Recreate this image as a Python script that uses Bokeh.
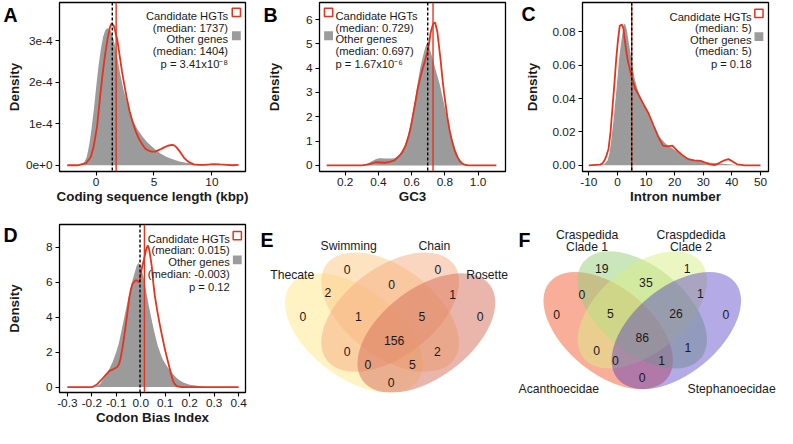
import numpy as np
from bokeh.plotting import figure
from bokeh.layouts import row, column
from bokeh.models import (Range1d, Label, FixedTicker, Span, ColumnDataSource, LinearAxis)
from bokeh.core.properties import value
from bokeh.embed import file_html
from bokeh.resources import INLINE

# ---------------- data ----------------
# A: coding sequence length (kbp)
a_hgt = [(-2.48, 0), (-1.6, 0), (-0.86, 0.05e-4), (-0.45, 0.2e-4), (-0.19, 0.47e-4), (0.1, 0.95e-4),
         (0.35, 1.64e-4), (0.55, 2.15e-4), (0.75, 2.6e-4), (1.0, 3.05e-4), (1.2, 3.32e-4), (1.35, 3.42e-4),
         (1.55, 3.35e-4), (1.83, 3.03e-4), (2.05, 2.62e-4), (2.24, 2.26e-4), (2.45, 1.93e-4), (2.64, 1.64e-4),
         (2.9, 1.3e-4), (3.18, 1.02e-4), (3.45, 0.8e-4), (3.72, 0.63e-4), (4.0, 0.5e-4), (4.26, 0.4e-4),
         (4.55, 0.35e-4), (4.8, 0.33e-4), (5.1, 0.33e-4), (5.34, 0.36e-4), (5.6, 0.39e-4), (5.88, 0.43e-4),
         (6.2, 0.47e-4), (6.55, 0.49e-4), (6.75, 0.48e-4), (6.95, 0.43e-4), (7.15, 0.36e-4), (7.36, 0.28e-4),
         (7.6, 0.18e-4), (7.9, 0.1e-4), (8.2, 0.05e-4), (8.44, 0.02e-4), (8.9, 0.01e-4), (9.38, 0.01e-4),
         (9.8, 0.02e-4), (10.2, 0.03e-4), (10.7, 0.02e-4), (11.3, 0.01e-4), (11.8, 0), (12.3, 0.01e-4)]
a_oth = [(-1.5, 0), (-1.27, 0.02e-4), (-1.0, 0.08e-4), (-0.8, 0.2e-4), (-0.6, 0.47e-4), (-0.4, 0.85e-4),
         (-0.19, 1.33e-4), (0.0, 1.85e-4), (0.22, 2.4e-4), (0.42, 2.8e-4), (0.62, 3.1e-4), (0.8, 3.25e-4),
         (0.97, 3.3e-4), (1.15, 3.28e-4), (1.29, 3.22e-4), (1.5, 3.05e-4), (1.7, 2.8e-4), (1.9, 2.5e-4),
         (2.1, 2.18e-4), (2.35, 1.85e-4), (2.64, 1.56e-4), (2.9, 1.3e-4), (3.18, 1.09e-4), (3.55, 0.88e-4),
         (3.99, 0.7e-4), (4.4, 0.56e-4), (4.8, 0.46e-4), (5.2, 0.36e-4), (5.6, 0.28e-4), (6.1, 0.2e-4),
         (6.68, 0.14e-4), (7.2, 0.09e-4), (7.76, 0.06e-4), (8.3, 0.04e-4), (8.84, 0.02e-4), (9.4, 0.01e-4),
         (9.9, 0)]
a_median_hgt, a_median_oth = 1.737, 1.404

# B: GC3
b_hgt = [(0.089, 0), (0.2, 0), (0.30, 0), (0.33, 0.03), (0.356, 0.07), (0.384, 0.13), (0.413, 0.12),
         (0.44, 0.11), (0.469, 0.15), (0.497, 0.21), (0.516, 0.33), (0.53, 0.42), (0.544, 0.54),
         (0.563, 0.8), (0.582, 1.2), (0.596, 1.6), (0.61, 2.13), (0.624, 2.65), (0.638, 3.19), (0.652, 3.6),
         (0.667, 3.99), (0.681, 4.3), (0.695, 4.65), (0.705, 5.0), (0.714, 5.44), (0.724, 5.7),
         (0.732, 5.84), (0.742, 5.87), (0.755, 5.5), (0.765, 4.9), (0.775, 4.3), (0.785, 3.6), (0.795, 3.0),
         (0.805, 2.5), (0.815, 2.0), (0.83, 1.4), (0.845, 0.95), (0.86, 0.6), (0.875, 0.35), (0.89, 0.18),
         (0.905, 0.08), (0.92, 0.03), (0.94, 0), (1.11, 0)]
b_oth = [(0.31, 0), (0.33, 0.05), (0.356, 0.15), (0.384, 0.25), (0.403, 0.29), (0.42, 0.29), (0.44, 0.28),
         (0.469, 0.28), (0.497, 0.3), (0.51, 0.35), (0.525, 0.44), (0.54, 0.58), (0.554, 0.74), (0.568, 1.0),
         (0.582, 1.34), (0.596, 1.78), (0.61, 2.26), (0.624, 2.85), (0.638, 3.46), (0.652, 4.0),
         (0.667, 4.45), (0.68, 4.8), (0.689, 4.98), (0.697, 5.0), (0.704, 4.91), (0.718, 4.6), (0.732, 4.25),
         (0.75, 3.8), (0.77, 3.32), (0.79, 2.7), (0.808, 2.13), (0.826, 1.6), (0.845, 1.07), (0.865, 0.62),
         (0.883, 0.34), (0.9, 0.15), (0.911, 0.08), (0.925, 0.03), (0.939, 0)]
b_median_hgt, b_median_oth = 0.729, 0.697

# C: intron number
c_hgt = [(-10, 0), (-6.1, 0.0004), (-5.3, 0.001), (-4.5, 0.003), (-3.8, 0.006), (-3.1, 0.0098),
         (-2.4, 0.02), (-1.7, 0.035), (-1.0, 0.05), (-0.4, 0.064), (0.2, 0.075), (0.8, 0.0835),
         (1.56, 0.0843), (2.1, 0.082), (2.5, 0.076), (3.0, 0.0696), (3.5, 0.064), (4.0, 0.06), (5.1, 0.052),
         (6.2, 0.046), (7.6, 0.0416), (9.3, 0.036), (10.9, 0.031), (12.6, 0.024), (14.2, 0.0175),
         (15.9, 0.0118), (17.5, 0.0114), (19.2, 0.0118), (20.8, 0.0089), (22.5, 0.0064), (24.7, 0.0037),
         (26.9, 0.003), (29.1, 0.0027), (30.7, 0.0017), (32.4, 0.0006), (34.1, 0.0002), (35.7, 0.0015),
         (37.4, 0.003), (38.8, 0.0037), (40.1, 0.0025), (41.8, 0.0006), (44.5, 0), (50, 0)]
c_oth = [(-5.5, 0), (-4.5, 0.001), (-3.4, 0.003), (-2.7, 0.008), (-2.0, 0.0175), (-1.3, 0.028),
         (-0.6, 0.0407), (0.0, 0.052), (0.5, 0.062), (1.0, 0.07), (1.6, 0.077), (2.0, 0.082), (2.3, 0.0847),
         (2.7, 0.0845), (3.0, 0.083), (3.4, 0.08), (3.8, 0.0754), (4.3, 0.07), (4.9, 0.0638), (5.4, 0.058),
         (6.0, 0.0522), (6.8, 0.047), (7.6, 0.0426), (8.5, 0.039), (9.3, 0.0359), (10.9, 0.030),
         (12.6, 0.0233), (14.8, 0.0166), (17.0, 0.0127), (19.2, 0.0102), (21.4, 0.0075), (23.6, 0.005),
         (26.9, 0.003), (30.2, 0.002), (34.6, 0.0012), (39.0, 0.0006), (42.3, 0)]
c_median_hgt, c_median_oth = 5, 5

# D: codon bias index
d_hgt = [(-0.3, 0), (-0.198, 0), (-0.179, 0.15), (-0.16, 0.42), (-0.143, 0.7), (-0.128, 0.93),
         (-0.111, 1.03), (-0.096, 1.15), (-0.088, 1.35), (-0.083, 1.6), (-0.074, 2.3), (-0.064, 3.26),
         (-0.055, 4.2), (-0.047, 5.09), (-0.04, 5.6), (-0.034, 5.9), (-0.022, 6.1), (-0.015, 6.1),
         (-0.009, 6.0), (-0.004, 6.1), (0.0, 6.46), (0.006, 6.9), (0.013, 7.29), (0.022, 7.87), (0.028, 8.1),
         (0.032, 8.0), (0.036, 7.75), (0.045, 6.92), (0.051, 6.0), (0.057, 5.27), (0.067, 4.4), (0.077, 3.63),
         (0.086, 3.0), (0.096, 2.34), (0.105, 1.8), (0.115, 1.25), (0.124, 0.75), (0.132, 0.33), (0.14, 0.15),
         (0.147, 0.05), (0.166, 0), (0.4, 0)]
d_oth = [(-0.19, 0), (-0.166, 0.18), (-0.14, 0.7), (-0.115, 1.43), (-0.1, 2.0), (-0.089, 2.53), (-0.07, 3.81),
         (-0.051, 5.09), (-0.032, 6.19), (-0.017, 6.92), (-0.009, 7.1), (0.0, 6.92), (0.006, 6.6),
         (0.013, 6.19), (0.022, 5.5), (0.032, 4.73), (0.041, 4.1), (0.051, 3.44), (0.06, 2.9), (0.07, 2.34),
         (0.08, 1.95), (0.089, 1.61), (0.1, 1.35), (0.109, 1.15), (0.12, 0.95), (0.134, 0.7), (0.147, 0.52),
         (0.16, 0.38), (0.172, 0.28), (0.185, 0.2), (0.2, 0.14), (0.224, 0.09), (0.245, 0.05), (0.262, 0.02),
         (0.28, 0.01), (0.3, 0)]
d_median_hgt, d_median_oth = 0.015, -0.003

# tick labels
a_xticks, a_xlabels = [0, 5, 10], ["0", "5", "10"]
a_yticks, a_ylabels = [0, 1e-4, 2e-4, 3e-4], ["0e+0", "1e-4", "2e-4", "3e-4"]
b_xticks, b_xlabels = [0.2, 0.4, 0.6, 0.8, 1.0], ["0.2", "0.4", "0.6", "0.8", "1.0"]
b_yticks, b_ylabels = [0, 1, 2, 3, 4, 5, 6], ["0", "1", "2", "3", "4", "5", "6"]
c_xticks, c_xlabels = [-10, 0, 10, 20, 30, 40, 50], ["-10", "0", "10", "20", "30", "40", "50"]
c_yticks, c_ylabels = [0, 0.02, 0.04, 0.06, 0.08], ["0.00", "0.02", "0.04", "0.06", "0.08"]
d_xticks = [-0.3, -0.2, -0.1, 0.0, 0.1, 0.2, 0.3, 0.4]
d_xlabels = ["-0.3", "-0.2", "-0.1", "0.0", "0.1", "0.2", "0.3", "0.4"]
d_yticks, d_ylabels = [0, 2, 4, 6, 8], ["0", "2", "4", "6", "8"]

a_legend = ["Candidate HGTs", "(median: 1737)", "Other genes", "(median: 1404)", "p = 3.41x10\u207b\u2078"]
b_legend = ["Candidate HGTs", "(median: 0.729)", "Other genes", "(median: 0.697)", "p = 1.67x10\u207b\u2076"]
c_legend = ["Candidate HGTs", "(median: 5)", "Other genes", "(median: 5)", "p = 0.18"]
d_legend = ["Candidate HGTs", "(median: 0.015)", "Other genes", "(median: -0.003)", "p = 0.12"]

# Venn diagrams
e_sets = ["Thecate", "Swimming", "Chain", "Rosette"]
e_counts = [0, 0, 0, 0, 2, 0, 1, 1, 5, 156, 0, 2, 0, 5, 0]
f_sets = ["Acanthoecidae", "Craspedida\nClade 1", "Craspdedida\nClade 2", "Stephanoecidae"]
f_counts = [19, 1, 35, 0, 1, 0, 5, 26, 0, 86, 0, 1, 0, 1, 0]

# ---------------- layout / style ----------------
FONT = "Liberation Sans"
TXT = "#1a1a1a"
RED = "#E5331D"
GREY = "#9B9B9B"
SX = 777 / 793
SY = 428 / 444
ROW_H = 214
TICK_FS = "11.8px"
TITLE_FS = "13.4px"
LEG_FS = "11.2px"
LETTER_FS = "19.5px"
VENN_FS = "12.2px"


def add_label(p, x, y, text, size, align="left", style="normal", color=TXT, units="screen"):
    p.add_layout(Label(x=x, y=y, x_units=units, y_units=units, text=text,
                       text_font=FONT, text_font_size=size, text_font_style=style,
                       text_color=color, text_align=align, text_baseline="alphabetic"))


def density_panel(W, frame, xr, yr, xt, xl, yt, yl, xtitle, ystand, hgt, oth,
                  med_h, med_o, letter, letter_cy, texts, leg):
    fl, fr, ft, fb = frame
    H = ROW_H
    bl = round(fl * SX); br = W - round(fr * SX)
    bt = round(ft * SY); bb = H - round(fb * SY)
    p = figure(width=W, height=H, x_range=Range1d(*xr), y_range=Range1d(*yr),
               output_backend="svg", toolbar_location=None,
               min_border_left=bl, min_border_right=br, min_border_top=bt, min_border_bottom=bb)
    p.xgrid.visible = False
    p.ygrid.visible = False
    p.outline_line_color = "black"
    p.outline_line_width = 1.3
    p.outline_line_alpha = 1.0
    fbo = H - bb
    frr = W - br

    # reference-pixel position -> data position (legend placement)
    def dx(rx):
        return xr[0] + (rx * SX - bl) / (frr - bl) * (xr[1] - xr[0])

    def dy(ry):
        return yr[1] - (ry * SY - bt) / (fbo - bt) * (yr[1] - yr[0])

    ox, oy = zip(*oth)
    hx, hy = zip(*hgt)
    p.varea(x=list(ox), y1=0, y2=list(oy), fill_color=GREY)
    p.line(x=list(hx), y=list(hy), line_color=RED, line_width=1.8)
    p.add_layout(Span(location=med_h, dimension="height", line_color=RED, line_width=1.4))
    p.add_layout(Span(location=med_o, dimension="height", line_color="black", line_width=1.4,
                      line_dash="3 2"))
    for ax, ticks, labels in ((p.xaxis[0], xt, xl), (p.yaxis[0], yt, yl)):
        ax.ticker = FixedTicker(ticks=list(ticks), minor_ticks=[])
        ax.major_label_overrides = {t: l for t, l in zip(ticks, labels)}
        ax.axis_line_color = None
        ax.major_tick_line_color = "black"
        ax.major_tick_line_width = 1.1
        ax.major_tick_out = 4
        ax.major_tick_in = 0
        ax.minor_tick_line_color = None
        ax.major_label_text_font = FONT
        ax.major_label_text_font_size = TICK_FS
        ax.major_label_text_color = TXT
        ax.axis_label_text_font = FONT
        ax.axis_label_text_font_style = "bold"
        ax.axis_label_text_font_size = TITLE_FS
        ax.axis_label_text_color = TXT
    p.xaxis[0].major_label_standoff = 2
    p.yaxis[0].major_label_standoff = 3
    p.xaxis[0].axis_label = xtitle
    p.xaxis[0].axis_label_standoff = 0
    p.yaxis[0].axis_label = "Density"
    p.yaxis[0].axis_label_standoff = ystand

    # panel letter: the only tick label of an outer, line-less left axis
    y_letter = dy(letter_cy)
    lax = LinearAxis(ticker=FixedTicker(ticks=[y_letter], minor_ticks=[]),
                     major_label_overrides={y_letter: letter},
                     axis_line_color=None, major_tick_line_color=None, minor_tick_line_color=None,
                     major_tick_out=0, major_tick_in=0, major_label_standoff=-14,
                     major_label_text_font=FONT, major_label_text_font_style="bold",
                     major_label_text_font_size=LETTER_FS, major_label_text_color="black")
    p.add_layout(lax, "left")

    # legend: texts and key squares
    for txt, ry in zip(texts, leg["base"]):
        add_label(p, dx(leg["tx"]), dy(ry), txt, LEG_FS, leg["align"], units="data")
    (rx1, ry1), (rx2, ry2) = leg["sq_red"], leg["sq_grey"]
    side = 8.4 * SX
    p.rect(x=[dx(rx1)], y=[dy(ry1)], width=side, height=side, width_units="screen",
           height_units="screen", fill_color="white", line_color=RED, line_width=1.5)
    p.rect(x=[dx(rx2)], y=[dy(ry2)], width=side + 0.6, height=side + 0.6, width_units="screen",
           height_units="screen", fill_color=GREY, line_color=None)
    return p


VENN_CX = [0.35, 0.5, 0.5, 0.65]
VENN_CY = [0.47, 0.57, 0.57, 0.47]
VENN_ROT = [135, 135, 45, 45]
VENN_A, VENN_B = 0.35, 0.2
TXT_REF = 12.0


def venn_panel(W, bt, bb, X0, Y0, SXu, SYu, fills, alphas, cats, bottom_cats, counts, count_pos,
               letter, letter_pos):
    H = ROW_H
    # data units == pixels of the figure (y measured upward from the figure bottom)
    p = figure(width=W, height=H, x_range=Range1d(0, W), y_range=Range1d(bb, H - bt),
               output_backend="svg", toolbar_location=None,
               min_border_left=0, min_border_right=0, min_border_top=bt, min_border_bottom=bb,
               x_axis_type=None, y_axis_type=None)
    p.outline_line_color = None
    add_label(p, letter_pos[0] * SX, H - letter_pos[1] * SY, letter, LETTER_FS, "left", "bold",
              "black", units="data")
    xs, ys, ws, hs, angs = [], [], [], [], []
    for cx, cy, rot in zip(VENN_CX, VENN_CY, VENN_ROT):
        th = np.radians(rot)
        R = np.array([[np.cos(th), -np.sin(th)], [np.sin(th), np.cos(th)]])
        M = np.diag([SXu * SX, SYu * SY]) @ R @ np.diag([VENN_A, VENN_B])
        U, S, Vt = np.linalg.svd(M)
        xs.append((X0 + cx * SXu) * SX)
        ys.append(H - (Y0 + (1 - cy) * SYu) * SY)
        ws.append(2 * S[0])
        hs.append(2 * S[1])
        angs.append(float(np.arctan2(U[1, 0], U[0, 0])))
    src = ColumnDataSource(dict(x=xs, y=ys, w=ws, h=hs, a=angs, c=fills, al=alphas))
    p.ellipse(x="x", y="y", width="w", height="h", angle="a", fill_color="c", fill_alpha="al",
              line_color=None, source=src)
    tx = [x * SX for x, _ in count_pos]
    ty = [H - (y + 0.358 * TXT_REF) * SY for _, y in count_pos]
    p.text(x=tx, y=ty, text=[str(c) for c in counts], text_align="center",
           text_baseline="alphabetic", text_font=value(FONT), text_font_size=value(VENN_FS),
           text_color=TXT)
    cx_, cy_, ct_ = [], [], []
    for name, lines_pos in cats:
        for line, (x, y) in zip(name.split("\n"), lines_pos):
            cx_.append(x * SX)
            cy_.append(H - (y + 0.358 * TXT_REF) * SY)
            ct_.append(line)
    p.text(x=cx_, y=cy_, text=ct_, text_align="center", text_baseline="alphabetic",
           text_font=value(FONT), text_font_size=value(VENN_FS), text_color=TXT)
    if bottom_cats:
        # category names below the diagram, as labels of a line-less bottom axis
        bticks = [x * SX for _, x, _ in bottom_cats]
        cap_top = (bottom_cats[0][2] - 0.358 * TXT_REF) * SY
        stand = int(round(cap_top - 0.19 * 12.2 - (H - bb)))
        bax = LinearAxis(ticker=FixedTicker(ticks=bticks, minor_ticks=[]),
                         major_label_overrides={t: n for t, (n, _, _) in zip(bticks, bottom_cats)},
                         axis_line_color=None, major_tick_line_color=None, minor_tick_line_color=None,
                         major_tick_out=0, major_tick_in=0, major_label_standoff=stand,
                         major_label_text_font=FONT, major_label_text_font_size=VENN_FS,
                         major_label_text_color=TXT)
        p.add_layout(bax, "below")
    return p


top_base = [16.3, 28.2, 40.3, 52.2, 65.5]

pA = density_panel(260, (52, 250, 2, 177), (-3.15, 12.9), (-0.15e-4, 3.92e-4),
                   a_xticks, a_xlabels, a_yticks, a_ylabels, "Coding sequence length (kbp)", 1,
                   a_hgt, a_oth, a_median_hgt, a_median_oth, "A", 15.0, a_legend,
                   dict(align="right", tx=231.5, base=top_base,
                        sq_red=(240.3, 12.4), sq_grey=(240.3, 36.6)))
pB = density_panel(258, (52, 250, 2, 177), (0.046, 1.165), (-0.25, 6.7),
                   b_xticks, b_xlabels, b_yticks, b_ylabels, "GC3", 21,
                   b_hgt, b_oth, b_median_hgt, b_median_oth, "B", 15.0, b_legend,
                   dict(align="left", tx=69, base=top_base,
                        sq_red=(61.7, 12.4), sq_grey=(61.7, 36.6)))
pC = density_panel(259, (58, 255, 2, 177), (-12.2, 52.8), (-0.0037, 0.0975),
                   c_xticks, c_xlabels, c_yticks, c_ylabels, "Intron number", 10,
                   c_hgt, c_oth, c_median_hgt, c_median_oth, "C", 13.9, c_legend,
                   dict(align="right", tx=237.3, base=[17, 28.5, 41, 52.5, 65.7],
                        sq_red=(245, 13.3), sq_grey=(245, 37.5)))
D_FRAME = (52, 250, 10, 185)
pD = density_panel(260, D_FRAME, (-0.332, 0.428), (-0.31, 9.3),
                   d_xticks, d_xlabels, d_yticks, d_ylabels, "Codon Bias Index", 21,
                   d_hgt, d_oth, d_median_hgt, d_median_oth, "D", 21.7, d_legend,
                   dict(align="right", tx=233.3, base=[25.5, 36.5, 49.5, 61.5, 75],
                        sq_red=(241.3, 21.9), sq_grey=(241.3, 47.1)))

row2_bt = round(D_FRAME[2] * SY)
row2_bb = ROW_H - round(D_FRAME[3] * SY)

e_count_pos = [(43.3, 102), (88.3, 53.2), (181, 53.2), (224.2, 102), (68.8, 76.8), (133.8, 68.2),
               (196, 78.2), (100, 101), (164.7, 101), (136.3, 126.2), (88.3, 137.4), (180.5, 137.4),
               (109.7, 151.5), (155, 151.5), (133.3, 169.8)]
e_cats = [(e_sets[0], [(32.4, 58.3)]), (e_sets[1], [(90, 28.3)]), (e_sets[2], [(177.5, 28.3)]),
          (e_sets[3], [(231.3, 58.3)])]
f_count_pos = [(85, 51.5), (172, 51.5), (130, 66.2), (64.7, 78.2), (185.7, 77.7), (38.8, 99.8),
               (93.8, 98.5), (160.8, 98.2), (211.7, 99.8), (126.3, 122.8), (79.7, 136.8), (173, 133.8),
               (98.8, 147.2), (146, 147.2), (126.3, 165.3)]
f_cats = [(f_sets[1], [(70, 17.3), (70, 29.3)]), (f_sets[2], [(176, 17.3), (176, 29.3)])]
f_bottom = [(f_sets[0], 40.8, 180), (f_sets[3], 217.5, 180)]

e_fills = ["#FFE789", "#FBC781", "#F5AB7F", "#D56B57"]
e_alphas = [0.5, 0.5, 0.5, 0.5]
f_fills = ["#F15D31", "#93CF78", "#D9EE86", "#432AC0"]
f_alphas = [0.5, 0.5, 0.5, 0.4]

pE = venn_panel(258, row2_bt, row2_bb, 8.95, 7.8, 246.7, 217.3, e_fills, e_alphas, e_cats, None,
                e_counts, e_count_pos, "E", (0, 26.7))
pF = venn_panel(259, row2_bt, row2_bb, 10.45, 7.3, 231.7, 213.3, f_fills, f_alphas, f_cats, f_bottom,
                f_counts, f_count_pos, "F", (0, 26.7))

layout = column(row(pA, pB, pC), row(pD, pE, pF))
open("out.html", "w").write(file_html(layout, INLINE))
